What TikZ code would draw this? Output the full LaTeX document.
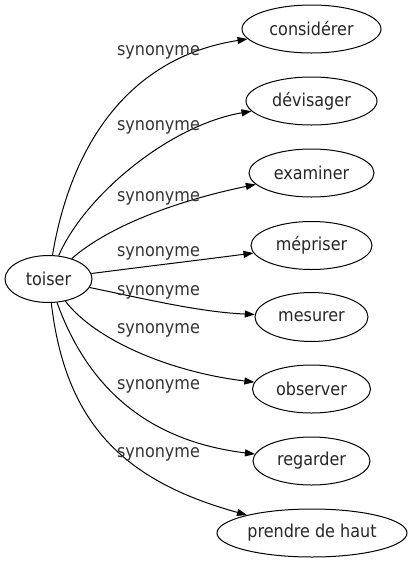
\documentclass[tikz,border=0pt]{standalone}
\usepackage{fontspec}
\setmainfont{DejaVu Sans Condensed}
\usetikzlibrary{arrows.meta,shapes.geometric}

\begin{document}
\begin{tikzpicture}%
        [x=1pt, y=-1pt,
        font=\fontsize{17.8}{20}\selectfont,
        word/.style={ellipse, draw=black, line width=1pt, inner sep=0pt, text=black!85},
        edge/.style={line width=1pt, -{Triangle[length=10pt,width=7pt]}},
        lbl/.style={anchor=base, inner sep=0pt, text=black!80}]
    %
    %% Bounding box of the picture
    \useasboundingbox (0,0) rectangle (412,563);
    %%
    %% Drawing the words
    %%
    \node[word, minimum width=87pt, minimum height=47pt] (toiser) at (48.5,279) {toiser};
    \node[word, minimum width=139pt, minimum height=48pt] (considerer) at (311.5,29) {considérer};
    \node[word, minimum width=131pt, minimum height=48pt] (devisager) at (311.5,101) {dévisager};
    \node[word, minimum width=125pt, minimum height=48pt] (examiner) at (311.5,173) {examiner};
    \node[word, minimum width=121pt, minimum height=48pt] (mepriser) at (311.5,245.5) {mépriser};
    \node[word, minimum width=113pt, minimum height=49pt] (mesurer) at (311.5,317) {mesurer};
    \node[word, minimum width=118pt, minimum height=48pt] (observer) at (311.5,389) {observer};
    \node[word, minimum width=117pt, minimum height=48pt] (regarder) at (311.5,461) {regarder};
    \node[word, minimum width=190pt, minimum height=48pt] (prendre) at (312,533) {prendre de haut};
    %%
    %% Drawing the edges
    %%
    \draw[edge] (toiser) .. controls (70,150) and (125,58) .. (considerer);
    \draw[edge] (toiser) .. controls (85,195) and (170,125) .. (devisager);
    \draw[edge] (toiser) .. controls (110,225) and (180,200) .. (examiner);
    \draw[edge] (toiser) .. controls (150,266) and (200,260) .. (mepriser);
    \draw[edge] (toiser) .. controls (150,300) and (200,312) .. (mesurer);
    \draw[edge] (toiser) .. controls (95,340) and (170,372) .. (observer);
    \draw[edge] (toiser) .. controls (85,380) and (140,440) .. (regarder);
    \draw[edge] (toiser) .. controls (65,420) and (120,480) .. (prendre);
    %%
    %% Edge labels
    %%
    \node[lbl] (l1) at (158.5,55) {synonyme};
    \node[lbl] (l2) at (158.5,130.7) {synonyme};
    \node[lbl] (l3) at (158.5,201) {synonyme};
    \node[lbl] (l4) at (158.5,256.7) {synonyme};
    \node[lbl] (l5) at (158.5,295) {synonyme};
    \node[lbl] (l6) at (158.5,333) {synonyme};
    \node[lbl] (l7) at (158.5,389) {synonyme};
    \node[lbl] (l8) at (158.5,457) {synonyme};
\end{tikzpicture}
\end{document}
